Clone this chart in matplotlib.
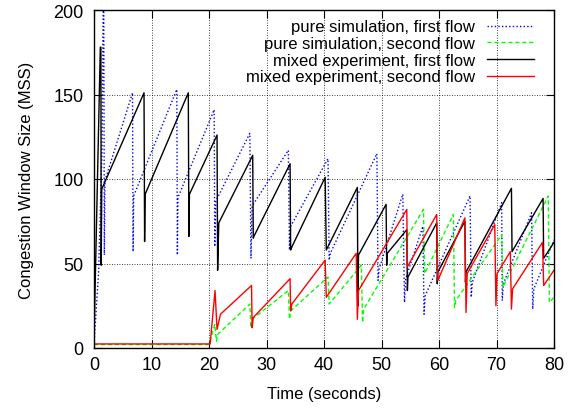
import matplotlib
matplotlib.use("Agg")
import matplotlib.pyplot as plt

# breakpoints (time in s, cwnd in MSS)
sim1_t = [0, 0.8, 1.4, 1.6, 1.7, 1.8, 1.9, 6.7, 6.8, 6.9, 14.4, 14.5, 14.6, 20.9, 21.0, 21.2,
          27.1, 27.3, 27.5, 33.8, 34.0, 34.2, 40.7, 40.9, 41.1, 49.2, 49.4, 49.6,
          53.7, 54.0, 54.2, 57.2, 57.4, 57.6, 65.4, 65.6, 65.8, 70.9, 71.0, 71.2,
          76.1, 76.3, 76.5, 80]
sim1_w = [2, 45, 118, 205, 205, 55, 99, 151, 57, 90, 153, 55, 89, 141, 60, 87,
          127, 53, 84, 117, 58, 72, 112, 52, 56, 115, 40, 47,
          91, 27, 41, 72, 20, 31, 90, 30, 39, 86, 28, 38,
          80, 23, 35, 64]

sim2_t = [0, 20.0, 21.0, 21.3, 21.5, 27.1, 27.3, 27.5, 33.8, 34.0, 34.2, 40.7, 40.9,
          46.5, 46.7, 46.9, 57.3, 57.5, 62.5, 62.7, 62.9, 70.9, 71.1, 79.0, 79.2, 80]
sim2_w = [2, 2, 14, 4, 8, 26, 12, 17, 34, 17, 22, 42, 26,
          49, 15, 23, 82, 44, 79, 24, 28, 67, 36, 90, 27, 30]

mix1_t = [0, 1.1, 1.2, 1.25, 1.35, 8.7, 8.8, 8.9, 16.4, 16.5, 16.6, 21.4, 21.5, 21.7,
          27.6, 27.7, 27.8, 34.1, 34.2, 34.3, 40.2, 40.4, 45.8, 45.9, 46.0, 50.8, 50.9, 51.0,
          54.4, 54.5, 54.6, 59.6, 59.7, 59.8, 64.5, 64.6, 64.7, 72.6, 72.7,
          78.1, 78.2, 80]
mix1_w = [5, 178, 178, 49, 94, 151, 63, 91, 151, 66, 91, 126, 46, 74,
          114, 65, 66, 109, 58, 59, 101, 58, 95, 25, 55, 85, 49, 56,
          70, 34, 42, 74, 38, 45, 75, 39, 45, 94.5, 57,
          88.5, 53, 62.5]

mix2_t = [0, 20.2, 21.05, 21.4, 22.0, 27.4, 27.5, 27.7, 34.1, 34.2, 34.4, 40.2, 40.4,
          45.6, 45.8, 46.0, 54.4, 54.5, 59.6, 59.8, 64.5, 64.7, 64.9, 69.7, 69.9, 70.1,
          72.4, 72.6, 72.8, 78.0, 78.2, 80]
mix2_w = [2.4, 2.4, 34, 11, 20, 37, 12, 18, 41, 22, 26, 52, 30,
          56, 17, 34, 82, 48, 79, 40, 77, 21, 44, 73, 25, 44,
          57, 23, 35, 62.5, 37, 46]

labels = ["pure simulation, first flow", "pure simulation, second flow",
          "mixed experiment, first flow", "mixed experiment, second flow"]

plt.rcParams['font.family'] = ['Liberation Sans', 'DejaVu Sans']
plt.rcParams['font.size'] = 12

fig = plt.figure(figsize=(5.77, 4.10), dpi=100)
ax = fig.add_axes([94/577, 1 - 349/410, 460/577, 338/410])

ax.plot(sim1_t, sim1_w, color='#0000ff', lw=1.0, ls=(0, (1, 1.6)), label=labels[0])
ax.plot(sim2_t, sim2_w, color='#00ff00', lw=1.0, ls=(0, (3, 2)), label=labels[1])
ax.plot(mix1_t, mix1_w, color='black', lw=1.0, label=labels[2])
ax.plot(mix2_t, mix2_w, color='#ff0000', lw=1.0, label=labels[3])

ax.set_xlim(0, 80)
ax.set_ylim(0, 200)
ax.set_xticks(range(0, 81, 10))
ax.set_yticks(range(0, 201, 50))
ax.grid(True, color='black', lw=0.6, ls=(0, (1, 2)))
ax.tick_params(direction='in', top=True, right=True, length=6, width=0.8, labelsize=13)
ax.tick_params(axis='x', pad=6)
ax.tick_params(axis='y', pad=7.5)
for s in ax.spines.values():
    s.set_linewidth(1.0)

ax.set_xlabel("Time (seconds)", fontsize=12, labelpad=9)
ax.set_ylabel("Congestion Window Size (MSS)", fontsize=12, labelpad=14)

leg = ax.legend(loc='upper right', bbox_to_anchor=(0.974, 0.997), frameon=False,
                markerfirst=False, handlelength=2.8, handletextpad=0.7,
                labelspacing=0.1, borderpad=0, fontsize=12)

fig.savefig("out.png", dpi=100)
